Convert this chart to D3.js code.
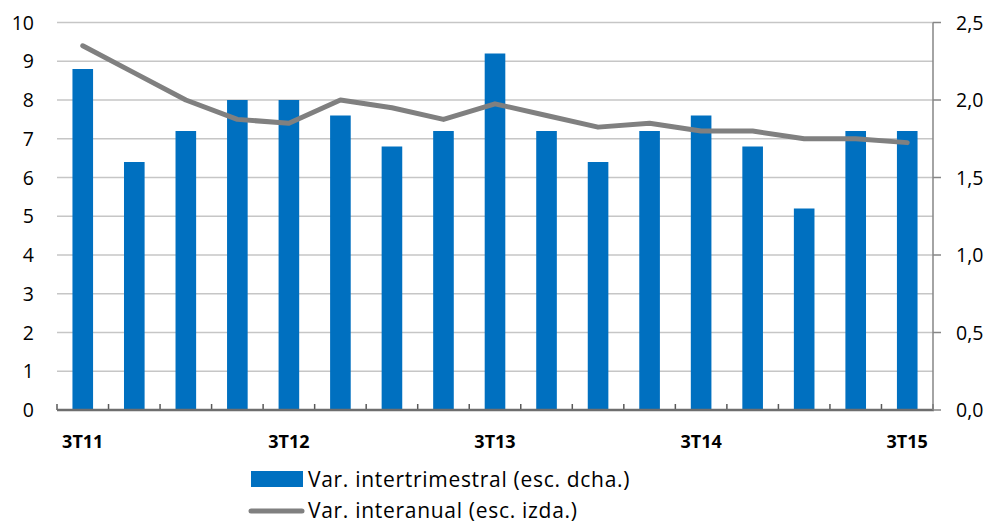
<!DOCTYPE html>
<html>
<head>
<meta charset="utf-8">
<script src="https://cdn.jsdelivr.net/npm/d3@7"></script>
<style>
  body { margin: 0; background: #fff; }
  text { font-family: "Open Sans", "Liberation Sans", sans-serif; fill: #000; }
</style>
</head>
<body>
<script>
// quarters, 3T11 .. 3T15
var quarters = ["3T11","4T11","1T12","2T12","3T12","4T12","1T13","2T13","3T13","4T13","1T14","2T14","3T14","4T14","1T15","2T15","3T15"];
var quarterLabels = ["3T11","","","","3T12","","","","3T13","","","","3T14","","","","3T15"];
// bars: right scale
var interTrimestral = [2.2,1.6,1.8,2.0,2.0,1.9,1.7,1.8,2.3,1.8,1.6,1.8,1.9,1.7,1.3,1.8,1.8];
// line: left scale
var interAnual = [9.4,8.7,8.0,7.5,7.4,8.0,7.8,7.5,7.9,7.6,7.3,7.4,7.2,7.2,7.0,7.0,6.9];
var leftTicks = [0,1,2,3,4,5,6,7,8,9,10];
var rightTicks = [0,0.5,1,1.5,2,2.5];

var W = 994, H = 524;
var pLeft = 57, pRight = 933, pTop = 22.5, pBottom = 410;

var svg = d3.select("body").append("svg")
	.attr("width", W)
	.attr("height", H);

var x = d3.scaleBand()
	.domain(quarters)
	.range([pLeft, pRight])
	.paddingInner(0.6)
	.paddingOuter(0.3);

var xEdge = d3.scaleBand().domain(quarters).range([pLeft, pRight]);

var yL = d3.scaleLinear().domain([0, 10]).range([pBottom, pTop]);
var yR = d3.scaleLinear().domain([0, 2.5]).range([pBottom, pTop]);

// gridlines
svg.append("g")
	.selectAll("line")
	.data(leftTicks.filter(function (d) { return d > 0; }))
	.enter().append("line")
	.attr("x1", pLeft).attr("x2", pRight)
	.attr("y1", function (d) { return yL(d); })
	.attr("y2", function (d) { return yL(d); })
	.attr("stroke", "#c6c6c6")
	.attr("stroke-width", 1.5);

// left labels
svg.append("g")
	.selectAll("text")
	.data(leftTicks)
	.enter().append("text")
	.attr("x", 34)
	.attr("y", function (d) { return yL(d); })
	.attr("dy", "0.36em")
	.attr("text-anchor", "end")
	.attr("font-size", "19.5px")
	.text(function (d) { return d; });

// bars
svg.append("g")
	.selectAll("rect")
	.data(interTrimestral)
	.enter().append("rect")
	.attr("x", function (d, i) { return x(quarters[i]); })
	.attr("width", x.bandwidth())
	.attr("y", function (d) { return yR(d); })
	.attr("height", function (d) { return pBottom - yR(d); })
	.attr("fill", "#0070c0");

// line
var line = d3.line()
	.x(function (d, i) { return x(quarters[i]) + x.bandwidth() / 2; })
	.y(function (d) { return yL(d); });

svg.append("path")
	.datum(interAnual)
	.attr("d", line)
	.attr("fill", "none")
	.attr("stroke", "#808080")
	.attr("stroke-width", 5)
	.attr("stroke-linecap", "round")
	.attr("stroke-linejoin", "round");

// bottom axis
var gx = svg.append("g");
gx.selectAll("line.tk")
	.data(quarters.concat(["end"]))
	.enter().append("line")
	.attr("class", "tk")
	.attr("x1", function (d, i) { return pLeft + i * xEdge.step(); })
	.attr("x2", function (d, i) { return pLeft + i * xEdge.step(); })
	.attr("y1", pBottom)
	.attr("y2", pBottom - 6)
	.attr("stroke", "#595959")
	.attr("stroke-width", 1.5);
gx.append("line")
	.attr("x1", pLeft).attr("x2", pRight + 1)
	.attr("y1", pBottom).attr("y2", pBottom)
	.attr("stroke", "#6e6e6e")
	.attr("stroke-width", 2.5);
gx.selectAll("text")
	.data(quarterLabels)
	.enter().append("text")
	.attr("x", function (d, i) { return x(quarters[i]) + x.bandwidth() / 2; })
	.attr("y", 442)
	.attr("dy", "0.36em")
	.attr("text-anchor", "middle")
	.attr("font-size", "18px")
	.attr("font-weight", "bold")
	.text(function (d) { return d; });

// right axis
var gr = svg.append("g");
gr.append("line")
	.attr("x1", pRight).attr("x2", pRight)
	.attr("y1", pTop).attr("y2", pBottom)
	.attr("stroke", "#868686")
	.attr("stroke-width", 1.5);
gr.selectAll("line.tk")
	.data(rightTicks)
	.enter().append("line")
	.attr("class", "tk")
	.attr("x1", pRight).attr("x2", pRight + 8)
	.attr("y1", function (d) { return yR(d); })
	.attr("y2", function (d) { return yR(d); })
	.attr("stroke", "#868686")
	.attr("stroke-width", 1.5);
gr.selectAll("text")
	.data(rightTicks)
	.enter().append("text")
	.attr("x", 956)
	.attr("y", function (d) { return yR(d); })
	.attr("dy", "0.36em")
	.attr("font-size", "19.5px")
	.text(function (d) { return d3.format(".1f")(d).replace(".", ","); });

// legend
var lg = svg.append("g");
lg.append("rect")
	.attr("x", 251).attr("y", 471)
	.attr("width", 52).attr("height", 16)
	.attr("fill", "#0070c0");
lg.append("text")
	.attr("x", 308).attr("y", 479)
	.attr("dy", "0.36em")
	.attr("font-size", "21px")
	.attr("letter-spacing", "0.7px")
	.text("Var. intertrimestral (esc. dcha.)");
lg.append("line")
	.attr("x1", 251).attr("x2", 302)
	.attr("y1", 511).attr("y2", 511)
	.attr("stroke", "#808080")
	.attr("stroke-width", 5)
	.attr("stroke-linecap", "round");
lg.append("text")
	.attr("x", 308).attr("y", 510)
	.attr("dy", "0.36em")
	.attr("font-size", "21px")
	.attr("letter-spacing", "0.7px")
	.text("Var. interanual (esc. izda.)");
</script>
</body>
</html>
